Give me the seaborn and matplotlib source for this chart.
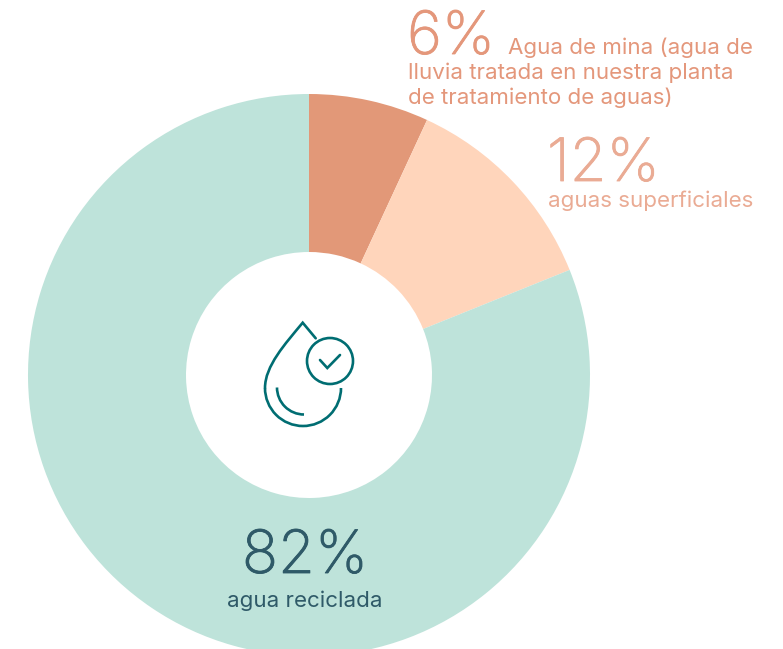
import matplotlib
matplotlib.use("Agg")
import matplotlib.pyplot as plt
import matplotlib.patheffects as pe
import seaborn as sns
from matplotlib.path import Path
from matplotlib.patches import PathPatch, Circle, Arc

sns.set_theme(style="white")
plt.rcParams['font.family'] = ['Inter', 'DejaVu Sans']

categories = ["Agua de mina", "aguas superficiales", "agua reciclada"]
drawn_shares = [6.9, 12.0, 81.1]
pct_labels = ["6%", "12%", "82%"]
colors = ["#e29878", "#ffd5bb", "#bee3da"]
c6, c12, c82, teal = "#e4977b", "#eaab94", "#2f5a68", "#006d72"

W, H = 783, 649
fig = plt.figure(figsize=(W/100, H/100), dpi=100)
ax = fig.add_axes([0, 0, 1, 1])
ax.set_xlim(0, W)
ax.set_ylim(H, 0)
ax.set_aspect("equal")
ax.axis("off")

# y axis inverted: counterclock=True appears clockwise on screen
ax.pie(drawn_shares, colors=colors, center=(309, 375), radius=281,
       startangle=-90, counterclock=True, frame=True,
       wedgeprops=dict(width=281-123, linewidth=0))
ax.set_xlim(0, W)
ax.set_ylim(H, 0)
ax.axis("off")

big = 43
body = 16.1
def thick(color):
    return [pe.withStroke(linewidth=0.6, foreground=color)]
kw = dict(va="baseline", ha="left", fontweight="light")
ax.text(407, 54, pct_labels[0], color=c6, fontsize=big, path_effects=thick(c6), **kw)
ax.text(547, 181, pct_labels[1], color=c12, fontsize=big, path_effects=thick(c12), **kw)
ax.text(305, 573, pct_labels[2], color=c82, fontsize=big, va="baseline", ha="center",
        fontweight="light", path_effects=thick(c82))
ax.text(508, 54, "Agua de mina (agua de", color=c6, fontsize=body, va="baseline")
ax.text(408, 79, "lluvia tratada en nuestra planta", color=c6, fontsize=body, va="baseline")
ax.text(408, 104, "de tratamiento de aguas)", color=c6, fontsize=body, va="baseline")
ax.text(548, 207, "aguas superficiales", color=c12, fontsize=body, va="baseline")
ax.text(305, 607, "agua reciclada", color=c82, fontsize=body, va="baseline", ha="center")

# icon
lw = 1.9
verts = [(315.7, 338.3), (302.7, 322.7), (285, 344), (265, 366), (265, 388)]
codes = [Path.MOVETO, Path.LINETO, Path.CURVE4, Path.CURVE4, Path.CURVE4]
ax.add_patch(PathPatch(Path(verts, codes), fill=False, ec=teal, lw=lw, capstyle="round"))
ax.add_patch(Arc((303, 388), 76, 76, theta1=0, theta2=180, ec=teal, lw=lw))
ax.add_patch(Arc((304, 387.5), 54, 54, theta1=90, theta2=180, ec=teal, lw=lw))
ax.add_patch(Circle((330, 361), 23, fill=False, ec=teal, lw=lw))
ax.plot([320, 327.3, 340], [360, 368, 355], color=teal, lw=lw, solid_capstyle="round", solid_joinstyle="miter")

fig.savefig("out.png", dpi=100)
